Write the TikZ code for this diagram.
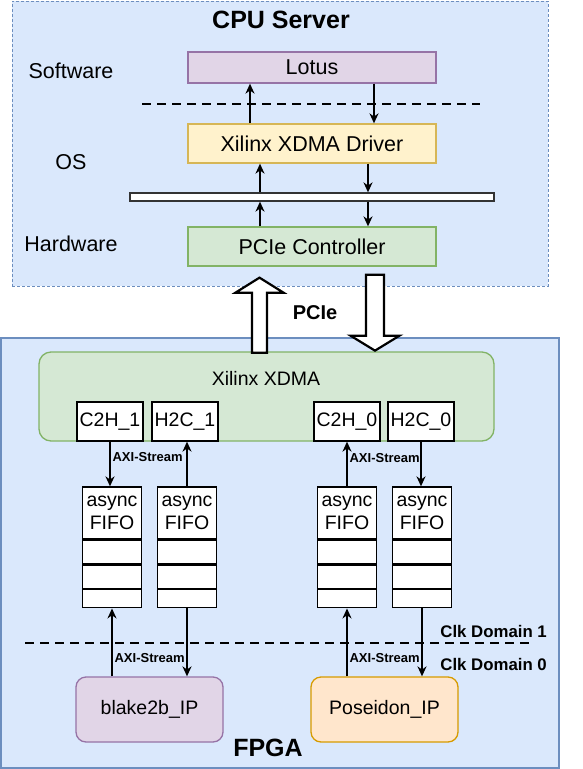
\documentclass[tikz,border=0pt]{standalone}
\usepackage{fontspec}
\setmainfont{Liberation Sans}
\usetikzlibrary{arrows.meta,positioning}

\definecolor{blueC}{HTML}{6C8EBF}
\definecolor{blueF}{HTML}{DAE8FC}
\definecolor{greenC}{HTML}{82B366}
\definecolor{greenF}{HTML}{D5E8D4}
\definecolor{yellowC}{HTML}{D6B656}
\definecolor{yellowF}{HTML}{FFF2CC}
\definecolor{purpleC}{HTML}{9673A6}
\definecolor{purpleF}{HTML}{E1D5E7}
\definecolor{orangeC}{HTML}{D79B00}
\definecolor{orangeF}{HTML}{FFE6CC}

\begin{document}
\begin{tikzpicture}[x=1pt,y=-1pt,
	>={Stealth[length=10pt,width=9pt]},
	arr/.style={->,line width=2.2pt},
	blk/.style={draw,fill=white,line width=2.2pt,line join=miter},
	sep/.style={line width=2.2pt,dash pattern=on 9pt off 6pt},
	layer/.style={draw=#1C,fill=#1F,line width=1.3pt,minimum width=248pt,minimum height=39pt,font=\fontsize{21.5}{24}\selectfont},
	side/.style={font=\fontsize{21.5}{24}\selectfont},
	head/.style={font=\bfseries\fontsize{25}{28}\selectfont},
	chan/.style={draw,fill=white,line width=1.3pt,minimum width=66pt,minimum height=39pt,inner sep=1pt,font=\fontsize{19.5}{22}\selectfont},
	fifo/.style={draw,fill=white,line width=1.3pt,minimum width=59pt,minimum height=52pt,inner sep=1pt,align=center,font=\fontsize{19.5}{22.6}\selectfont},
	slot/.style={draw,fill=white,line width=1.3pt,minimum width=59pt,minimum height=#1,inner sep=0pt},
	slot/.default=23.3pt,
	ip/.style={draw=#1C,fill=#1F,line width=1.3pt,rounded corners=10pt,minimum width=147pt,minimum height=65pt,font=\fontsize{19.5}{22}\selectfont},
	lbl/.style={font=\bfseries\fontsize{13}{14}\selectfont,inner sep=1.5pt},
	clk/.style={font=\bfseries\fontsize{16.8}{19}\selectfont,inner sep=0pt,anchor=east}]

	\useasboundingbox (0,0) rectangle (582,769);

	\node (cpu) [draw=blueC,fill=blueF,line width=1pt,dash pattern=on 3pt off 2pt,minimum width=536pt,minimum height=285pt] at (280,143.5) {};
	\node (fpga) [draw=blueC,fill=blueF,line width=1.3pt,minimum width=558pt,minimum height=430pt] at (280,553) {};

	\node[head] (cpu-t) at (281,20) {CPU Server};
	\node[side] (sw) at (71,71) {Software};
	\node[side] (os) at (71,162) {OS};
	\node[side] (hw) at (71,244) {Hardware};

	\node[layer=purple,minimum height=31pt] (lotus) at (312,67.5) {Lotus};
	\node[layer=yellow] (drv) at (312,143.5) {Xilinx XDMA Driver};
	\node (bar) [draw=black!80,fill=white,line width=1.3pt,minimum width=364pt,minimum height=8pt,inner sep=0pt] at (312,197) {};
	\node[layer=green] (pcie) at (312,246.5) {PCIe Controller};

	\draw[sep] (142,104) -- (480,104);

	\draw[arr] ([xshift=-62pt]drv.north) -- ([xshift=-62pt]lotus.south);
	\draw[arr] ([xshift=62pt]lotus.south) -- ([xshift=62pt]drv.north);
	\draw[arr] ([xshift=-52pt]bar.north) -- ([xshift=-52pt]drv.south);
	\draw[arr] ([xshift=56pt]drv.south) -- ([xshift=56pt]bar.north);
	\draw[arr] ([xshift=-52pt]pcie.north) -- ([xshift=-52pt]bar.south);
	\draw[arr] ([xshift=56pt]bar.south) -- ([xshift=56pt]pcie.north);

	\node (xdma) [draw=greenC,fill=greenF,line width=1.3pt,rounded corners=12pt,minimum width=455pt,minimum height=89pt] at (266.5,396.5) {};
	\node (xdma-t) [font=\fontsize{19.5}{22}\selectfont] at (266,378) {Xilinx XDMA};

	\coordinate (pu) at ([xshift=-52.5pt,yshift=-11pt]pcie.south);
	\coordinate (pd) at ([xshift=63pt,yshift=-8pt]pcie.south);
	\draw[blk] (pu) -- ++(24,15) -- ++(-16.5,0) -- ++(0,60) -- ++(-15,0) -- ++(0,-60) -- ++(-16.5,0) -- cycle;
	\draw[blk] (pd) ++(-9,0) -- ++(0,61) -- ++(-15.5,0) -- ++(24.5,15) -- ++(24.5,-15) -- ++(-15.5,0) -- ++(0,-61) -- cycle;
	\node (pcie-t) [font=\bfseries\fontsize{20}{22}\selectfont] at (315,313) {PCIe};

	\node[chan] (c2h1) at (110,421.5) {C2H\_1};
	\node[chan] (h2c1) at (185,421.5) {H2C\_1};
	\node[chan] (c2h0) at (347,421.5) {C2H\_0};
	\node[chan] (h2c0) at (421,421.5) {H2C\_0};

	\node[fifo] (fA) at (112,513) {async\\FIFO};
	\node[slot] (fA1) [below=0pt of fA] {};
	\node[slot] (fA2) [below=0pt of fA1] {};
	\node[slot=18.3pt] (fA3) [below=0pt of fA2] {};

	\node[fifo] (fB) at (187,513) {async\\FIFO};
	\node[slot] (fB1) [below=0pt of fB] {};
	\node[slot] (fB2) [below=0pt of fB1] {};
	\node[slot=18.3pt] (fB3) [below=0pt of fB2] {};

	\node[fifo] (fC) at (347,513) {async\\FIFO};
	\node[slot] (fC1) [below=0pt of fC] {};
	\node[slot] (fC2) [below=0pt of fC1] {};
	\node[slot=18.3pt] (fC3) [below=0pt of fC2] {};

	\node[fifo] (fD) at (422,513) {async\\FIFO};
	\node[slot] (fD1) [below=0pt of fD] {};
	\node[slot] (fD2) [below=0pt of fD1] {};
	\node[slot=18.3pt] (fD3) [below=0pt of fD2] {};

	\node[ip=purple] (blake) at (149.5,709.5) {blake2b\_IP};
	\node[ip=orange] (posei) at (384.5,709.5) {Poseidon\_IP};

	\draw[sep] (25,643) -- (534,643);
	\node[clk] (clk1) at (547,631) {Clk Domain 1};
	\node[clk] (clk0) at (547,664) {Clk Domain 0};

	\draw[arr] (c2h1.south) -- (c2h1.south |- fA.north) node[lbl,pos=.35,right] {AXI-Stream};
	\draw[arr] (fB.north) -- (fB.north |- h2c1.south);
	\draw[arr] (fC.north) -- (fC.north |- c2h0.south) node[lbl,pos=.63,right] {AXI-Stream};
	\draw[arr] (h2c0.south) -- (h2c0.south |- fD.north);

	\draw[arr] (fA3.south |- blake.north) -- (fA3.south) node[lbl,pos=.27,right] {AXI-Stream};
	\draw[arr] (fB3.south) -- (fB3.south |- blake.north);
	\draw[arr] (fC3.south |- posei.north) -- (fC3.south) node[lbl,pos=.27,right] {AXI-Stream};
	\draw[arr] (fD3.south) -- (fD3.south |- posei.north);

	\node[head] (fpga-t) at (268,748) {FPGA};
\end{tikzpicture}
\end{document}
